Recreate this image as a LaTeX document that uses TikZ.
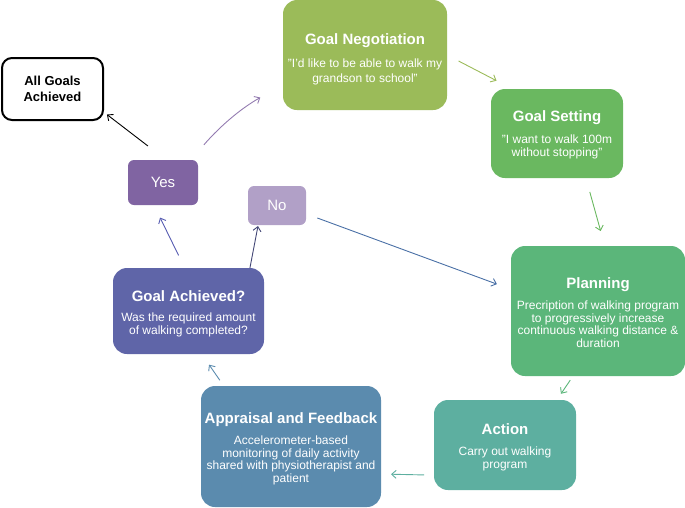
\documentclass[tikz,border=0pt]{standalone}
\usepackage{fontspec}
\setmainfont{Liberation Sans}
\usetikzlibrary{arrows.meta}

\definecolor{negcol}{HTML}{9BBB59}
\definecolor{setcol}{HTML}{6AB860}
\definecolor{plancol}{HTML}{5BB67A}
\definecolor{actcol}{HTML}{5DAFA0}
\definecolor{appcol}{HTML}{5B8BAE}
\definecolor{achcol}{HTML}{5F65A8}
\definecolor{yescol}{HTML}{8064A2}
\definecolor{nocol}{HTML}{B1A0C7}
\definecolor{nolink}{HTML}{4A70A6}

\begin{document}
\begin{tikzpicture}[x=1pt,y=-1pt,
    stage/.style={rectangle, rounded corners=14pt, fill=#1, text=white, align=center,
      inner sep=0pt, outer sep=0pt, font=\fontsize{12}{12.6}\selectfont},
    choice/.style={rectangle, rounded corners=6pt, fill=#1, text=white, inner sep=0pt,
      outer sep=0pt, font=\fontsize{15}{18}\selectfont},
    flow/.style={-{Straight Barb[length=4.5pt,width=8pt]}, line width=0.9pt, draw=#1}]
    \useasboundingbox (0,0) rectangle (685,507);

    % Cycle stages
    \node[stage=negcol, minimum width=164pt, minimum height=110pt,
      font=\fontsize{12}{14.5}\selectfont] (negot) at (365,55)
      {{\bfseries\fontsize{15}{18}\selectfont\rule{0pt}{19pt}Goal Negotiation}\\[9pt]
       "I'd like to be able to walk my\\grandson to school"};
    \node[stage=setcol, minimum width=132pt, minimum height=89pt,
      font=\fontsize{12}{13.3}\selectfont] (setting) at (557,133.5)
      {{\bfseries\fontsize{15}{18}\selectfont\rule{0pt}{14pt}Goal Setting}\\[8.5pt]
       "I want to walk 100m\\without stopping"};
    \node[stage=plancol, minimum width=174pt, minimum height=130pt] (planning) at (598,311)
      {{\bfseries\fontsize{15}{18}\selectfont\rule{0pt}{14pt}Planning}\\[8.5pt]
       Precription of walking program\\to progressively increase\\
       continuous walking distance \&\\duration};
    \node[stage=actcol, minimum width=142pt, minimum height=90pt] (action) at (505,445)
      {{\bfseries\fontsize{15}{18}\selectfont\rule{0pt}{15pt}Action}\\[8.5pt]
       Carry out walking\\program};
    \node[stage=appcol, minimum width=180pt, minimum height=121pt] (appraisal) at (291,446.5)
      {{\bfseries\fontsize{15}{18}\selectfont\rule{0pt}{15pt}Appraisal and Feedback}\\[8.5pt]
       Accelerometer-based\\monitoring of daily activity\\
       shared with physiotherapist and\\patient};
    \node[stage=achcol, minimum width=151pt, minimum height=86pt] (achieved) at (188.5,311)
      {{\bfseries\fontsize{15}{18}\selectfont\rule{0pt}{16pt}Goal Achieved?}\\[7.5pt]
       Was the required amount\\of walking completed?};

    % Decision
    \node[choice=yescol, minimum width=70pt, minimum height=45pt] (yes) at (163,182.5) {Yes};
    \node[choice=nocol, minimum width=58pt, minimum height=39pt] (no) at (277,205.5) {No};
    \node[draw=black, line width=2pt, rounded corners=10pt, fill=white, align=center,
      minimum width=101pt, minimum height=62pt, inner sep=0pt, outer sep=0pt,
      font=\bfseries\fontsize{13}{15.5}\selectfont] (allgoals) at (52.5,89)
      {All Goals\\Achieved};

    % Connectors
    \draw[flow=negcol, shorten <=13pt, shorten >=18pt] (negot.east) -- (setting.135);
    \draw[flow=setcol, shorten <=14.5pt, shorten >=15.5pt] (setting.-57) -- (planning.84);
    \draw[flow=plancol, shorten <=5pt, shorten >=7.5pt] (planning.-111) -- (action.41.4);
    \draw[flow=actcol, shorten <=10pt, shorten >=10pt] (action.-157.8) -- (appraisal.-17);
    \draw[flow=appcol, shorten <=7pt, shorten >=13pt] (appraisal.138.3) -- (achieved.-73);
    \draw[flow=achcol!90!blue, shorten <=14pt, shorten >=14pt] (achieved.95.6) -- (yes.-112.5);
    \draw[flow=achcol!70!black, shorten >=1pt] (achieved.35.4) -- (no.-134);
    \draw[flow=nolink, shorten <=12pt, shorten >=15pt] (no.-16.3) -- (planning.166.4);
    \draw[flow=black, shorten <=23pt, shorten >=5pt] (yes.82.4) -- (allgoals.-24);
    \draw[flow=yescol!85!white, shorten <=20pt, shorten >=26pt] (yes.39.8) to[bend left=10] (negot.-160);
\end{tikzpicture}
\end{document}
